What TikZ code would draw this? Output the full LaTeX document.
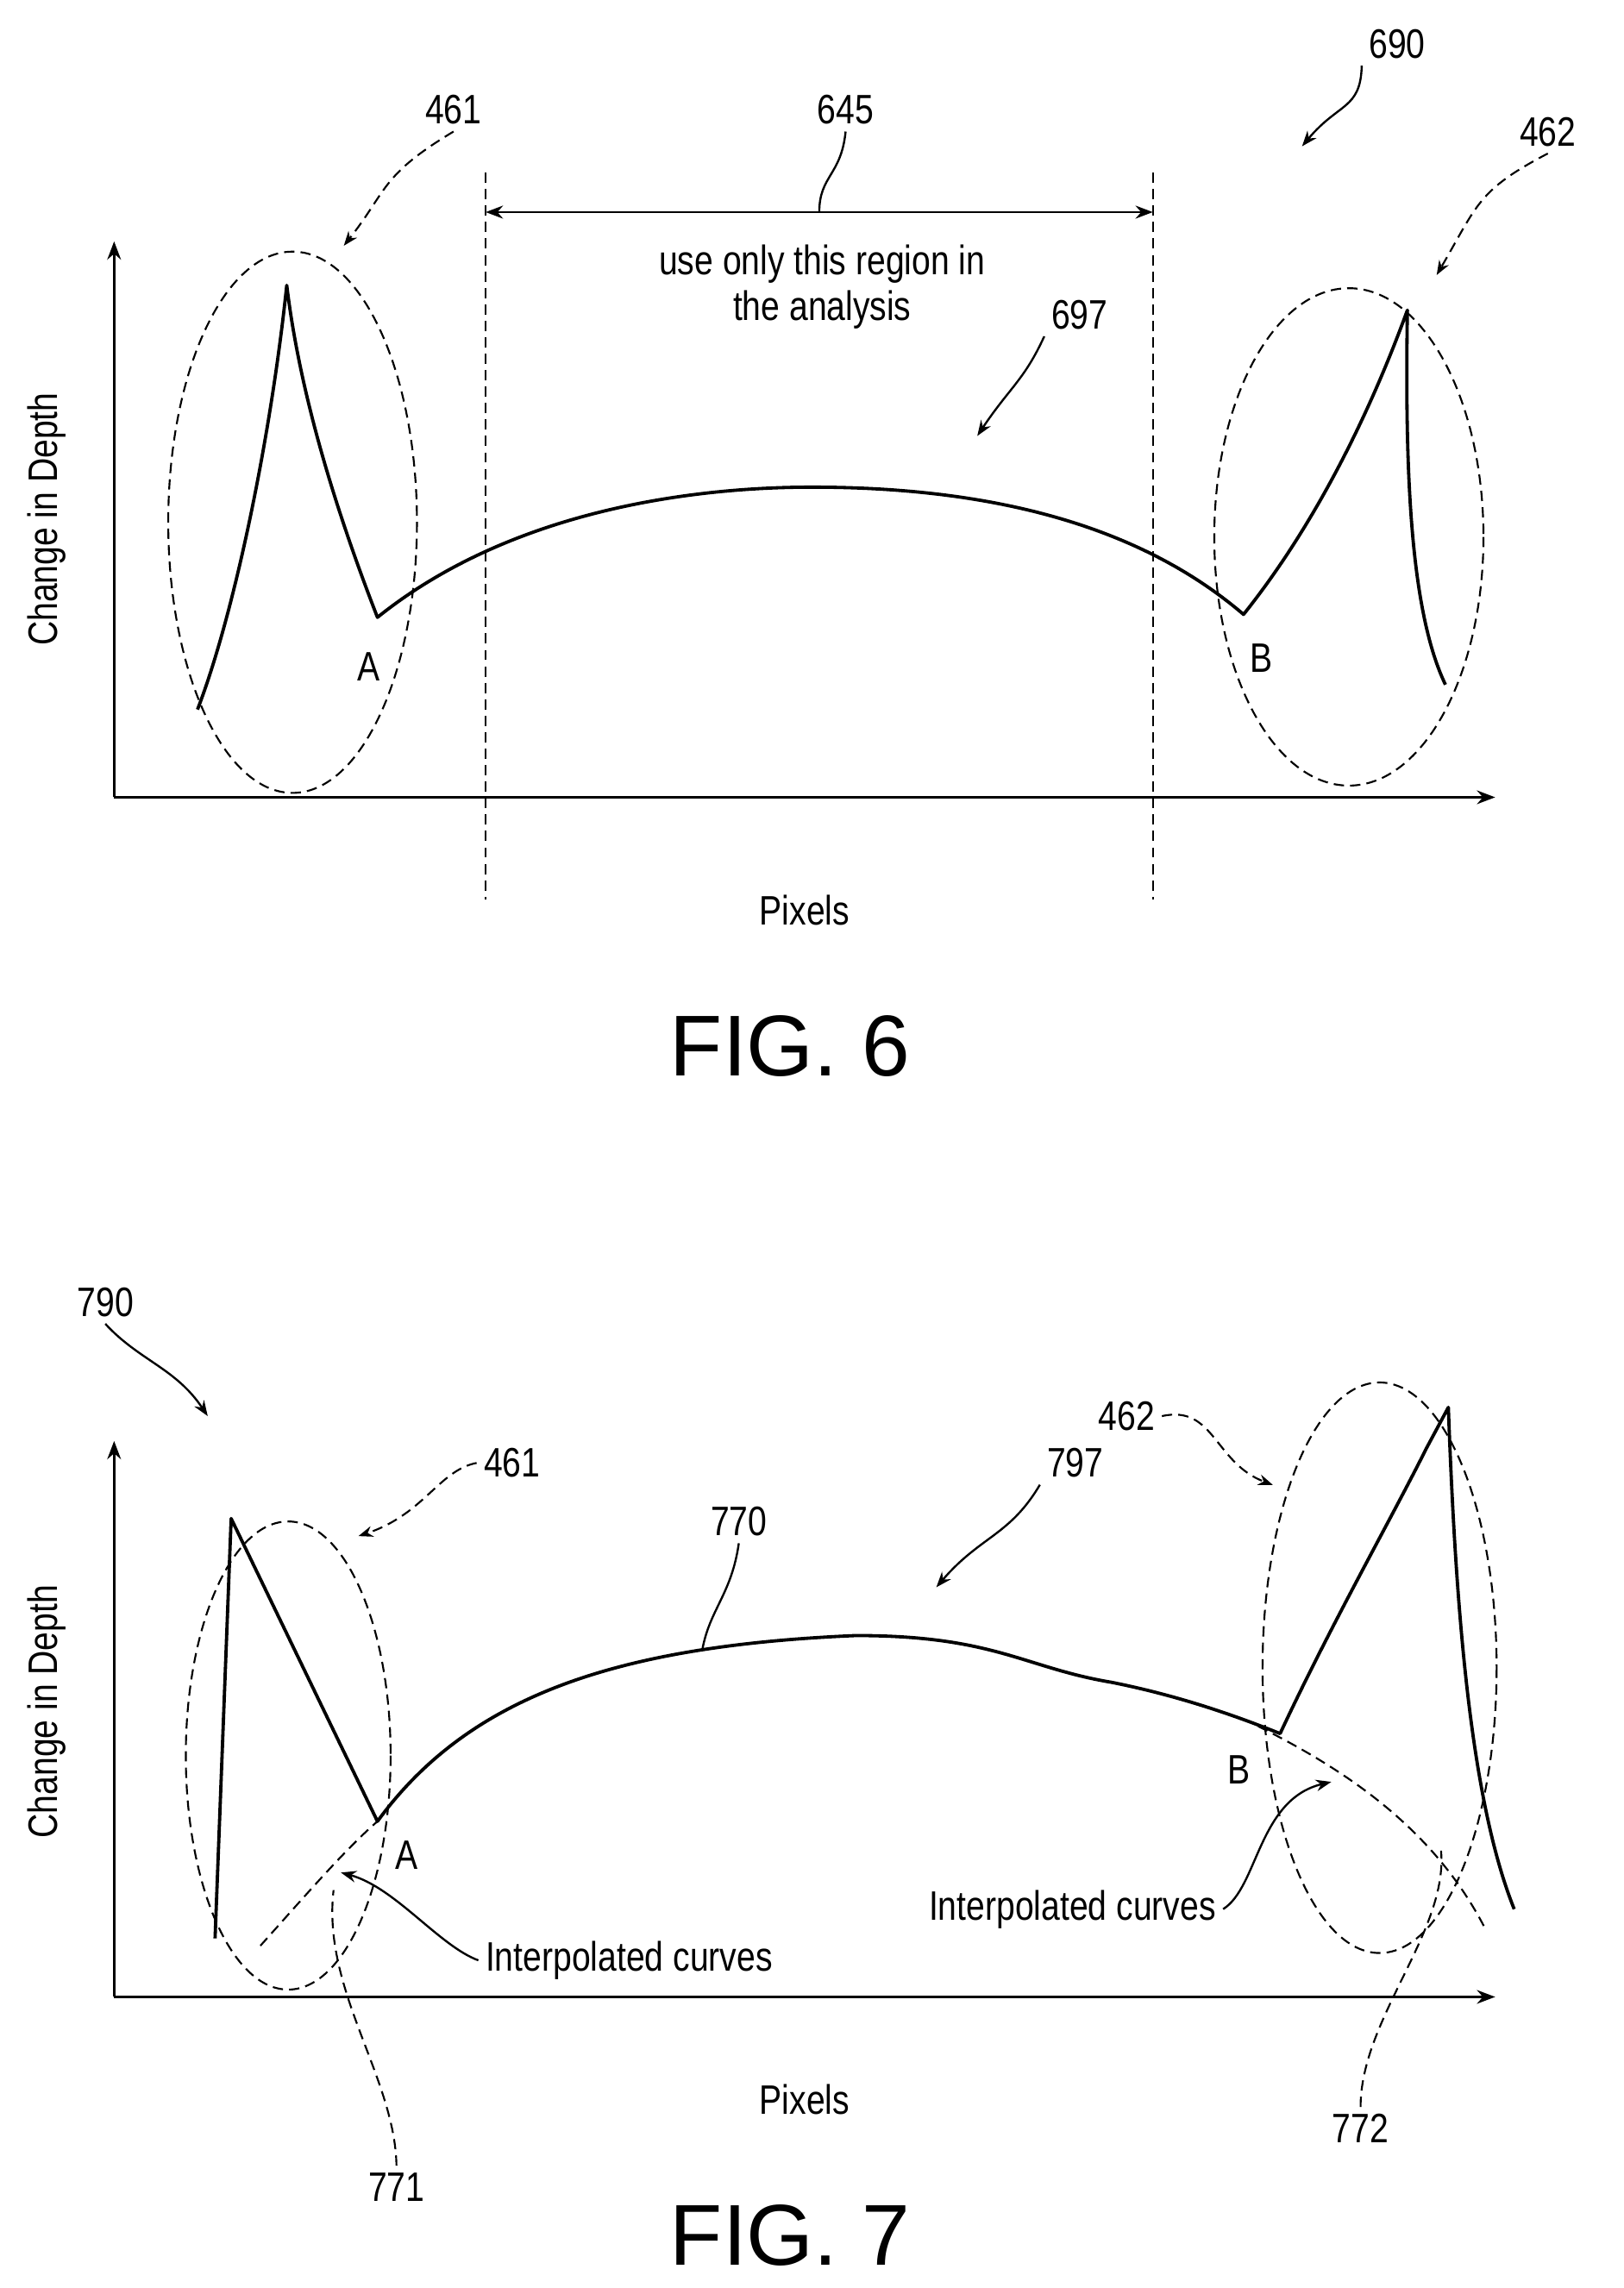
\documentclass[tikz,border=0pt]{standalone}
\usepackage{fontspec}
\setmainfont{Liberation Sans}
\usetikzlibrary{arrows.meta, positioning}
\tikzset{
	>=Stealth, % puntas de flecha
	curva/.style={line width=1.6pt, line join=round},
	rayas/.style={dash pattern=on 5pt off 3pt, line width=0.9pt},
	ref/.style={font=\fontsize{20}{22}\selectfont\addfontfeature{FakeStretch=0.82}},
	eje/.style={line width=1.3pt, ->},
	fig/.style={font=\fontsize{42}{46}\selectfont}
}
\begin{document}
\begin{tikzpicture}[x=0.025cm, y=-0.025cm]
\useasboundingbox (0,0) rectangle (1110,1564);
% ---------------- FIG. 6
\draw[eje] (78,545) -- (78,165);
\draw[eje] (78,545) -- (1022,545);
\node[ref, rotate=90] (dep6) at (32,355) {Change in Depth};
\node[ref] (pix6) at (550,622) {Pixels};
\node[fig] (fig6) at (540,715) {FIG. 6};
\coordinate (izq) at (332,118); \coordinate (izqb) at (332,615);
\coordinate (der) at (788,118); \coordinate (derb) at (788,615);
\draw[rayas] (izq) -- (izqb);
\draw[rayas] (der) -- (derb);
\draw[line width=1.2pt, <->] (332,145) coordinate (r1) -- (788,145) coordinate (r2);
\node[ref, align=center] (uso) at (562,196) {use only this region in\\the analysis};
\node[ref] (n645) at (578,75) {645};
\draw[line width=1pt] (n645.south) .. controls (575,120) and (560,120) .. (560,145);
\draw[curva] (135,485) .. controls (160,420) and (185,300) .. (196,195)
	.. controls (205,270) and (230,350) .. (258,422) coordinate (A6)
	.. controls (360,340) and (500,333) .. (555,333)
	.. controls (680,333) and (780,360) .. (850,420) coordinate (B6)
	.. controls (890,370) and (930,300) .. (962,212)
	.. controls (960,330) and (965,420) .. (988,468);
\node[ref] (lA6) at (252,456) {A};
\node[ref] (lB6) at (862,450) {B};
\draw[rayas] (200,357) ellipse [x radius=85, y radius=185];
\draw[rayas] (922,367) ellipse [x radius=92, y radius=170];
\node[ref] (n461a) at (310,75) {461};
\draw[rayas, ->] (n461a.south) .. controls (260,120) and (265,130) .. (235,168);
\node[ref] (n462a) at (1058,90) {462};
\draw[rayas, ->] (n462a.south) .. controls (1010,130) and (1010,140) .. (982,188);
\node[ref] (n690) at (955,30) {690};
\draw[line width=1pt, ->] (n690.south west) .. controls (930,75) and (915,70) .. (890,100);
\node[ref] (n697) at (738,215) {697};
\draw[line width=1pt, ->] (n697.south west) .. controls (700,260) and (690,265) .. (668,298);
% ---------------- FIG. 7
\draw[eje] (78,1365) -- (78,985);
\draw[eje] (78,1365) -- (1022,1365);
\node[ref, rotate=90] (dep7) at (32,1170) {Change in Depth};
\node[ref] (pix7) at (550,1435) {Pixels};
\node[fig] (fig7) at (540,1528) {FIG. 7};
\draw[curva] (147,1325) -- (158,1038) -- (258,1245) coordinate (A7)
	.. controls (320,1160) and (420,1125) .. (585,1118)
	.. controls (680,1118) and (700,1140) .. (760,1150)
	.. controls (810,1160) and (850,1175) .. (875,1185) coordinate (B7)
	.. controls (910,1110) and (950,1040) .. (975,990)
	-- (990,962) .. controls (995,1100) and (1005,1230) .. (1035,1305);
\draw[rayas] (178,1330) .. controls (205,1300) and (235,1265) .. (258,1245);
\draw[rayas] (860,1180) .. controls (920,1210) and (980,1250) .. (1015,1318);
\node[ref] (lA7) at (278,1268) {A};
\node[ref] (lB7) at (847,1210) {B};
\draw[rayas] (197,1200) ellipse [x radius=70, y radius=160];
\draw[rayas] (943,1140) ellipse [x radius=80, y radius=195];
\node[ref] (n790) at (72,890) {790};
\draw[line width=1pt, ->] (n790.south) .. controls (95,930) and (120,935) .. (142,968);
\node[ref] (n461b) at (350,1000) {461};
\draw[rayas, ->] (n461b.west) .. controls (300,1005) and (290,1035) .. (245,1050);
\node[ref] (n462b) at (770,968) {462};
\draw[rayas, ->] (n462b.east) .. controls (830,960) and (830,1000) .. (870,1015);
\node[ref] (n770) at (505,1040) {770};
\draw[line width=1pt] (n770.south) .. controls (500,1090) and (485,1100) .. (480,1128);
\node[ref] (n797) at (735,1000) {797};
\draw[line width=1pt, ->] (n797.south west) .. controls (690,1050) and (670,1050) .. (640,1085);
\node[ref] (int1) at (430,1340) {Interpolated curves};
\draw[line width=1pt, ->] (int1.west) .. controls (300,1330) and (270,1290) .. (233,1280);
\node[ref] (int2) at (733,1305) {Interpolated curves};
\draw[line width=1pt, ->] (int2.east) .. controls (860,1290) and (860,1230) .. (910,1218);
\node[ref] (n771) at (271,1495) {771};
\draw[rayas] (n771.north) .. controls (270,1420) and (220,1360) .. (228,1292);
\node[ref] (n772) at (930,1455) {772};
\draw[rayas] (n772.north) .. controls (930,1380) and (990,1320) .. (985,1265);
\end{tikzpicture}
\end{document}
